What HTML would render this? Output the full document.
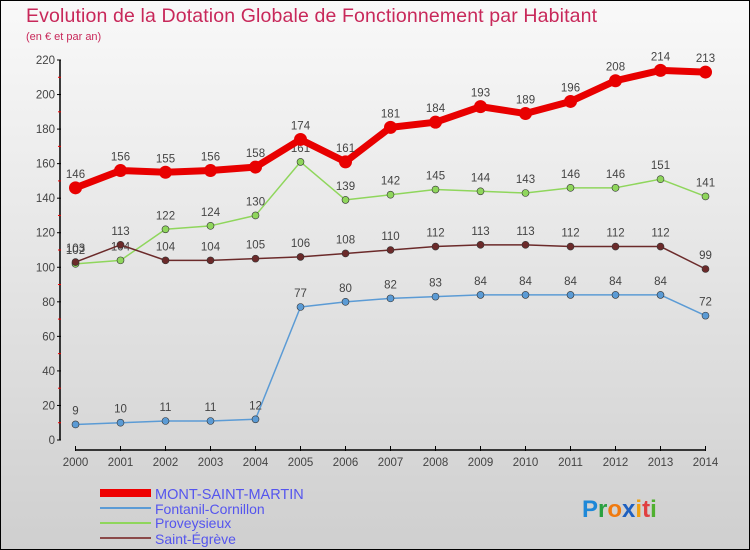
<!DOCTYPE html>
<html><head><meta charset="utf-8"><style>
body{margin:0;}
#c{position:relative;width:748px;height:548px;border:1px solid #000;background:linear-gradient(#f9f9f9,#cfcfcf);overflow:hidden;font-family:"Liberation Sans",sans-serif;}
svg text{font-family:"Liberation Sans",sans-serif;}
</style></head><body>
<div id="c">
<svg width="748" height="548" viewBox="1 1 748 548" id="svg">
<text x="26" y="22" font-size="19.5" fill="#c8285a" textLength="571">Evolution de la Dotation Globale de Fonctionnement par Habitant</text>
<text x="26" y="40" font-size="11" fill="#c8285a">(en € et par an)</text>
<g id="axes"></g><g id="series"></g>
<g>
<line x1="100" y1="493" x2="151" y2="493" stroke="#e00" stroke-width="8"/>
<text x="155" y="499" font-size="14.5" fill="#5555ee">MONT-SAINT-MARTIN</text>
<line x1="100" y1="508" x2="151" y2="508" stroke="#5b9bd5" stroke-width="2"/>
<text x="155" y="514" font-size="14" fill="#5555ee">Fontanil-Cornillon</text>
<line x1="100" y1="523" x2="151" y2="523" stroke="#8fd65c" stroke-width="2"/>
<text x="155" y="528" font-size="14" fill="#5555ee">Proveysieux</text>
<line x1="100" y1="538" x2="151" y2="538" stroke="#8b4a4a" stroke-width="2"/>
<text x="155" y="544" font-size="14" fill="#5555ee">Saint-Égrève</text>
</g>
<text x="582" y="517" font-size="24" font-weight="bold"><tspan fill="#1e88d8">P</tspan><tspan fill="#2aa040">r</tspan><tspan fill="#f07a10">o</tspan><tspan fill="#1e60c0">x</tspan><tspan fill="#f0a010">i</tspan><tspan fill="#e04040">t</tspan><tspan fill="#50b030">i</tspan></text>
</svg>
</div>
<script>
const years=[2000,2001,2002,2003,2004,2005,2006,2007,2008,2009,2010,2011,2012,2013,2014];
const mont=[146,156,155,156,158,174,161,181,184,193,189,196,208,214,213];
const fontanil=[9,10,11,11,12,77,80,82,83,84,84,84,84,84,72];
const provey=[102,104,122,124,130,161,139,142,145,144,143,146,146,151,141];
const egreve=[103,113,104,104,105,106,108,110,112,113,113,112,112,112,99];
const yTicks=[0,20,40,60,80,100,120,140,160,180,200,220];
const NS="http://www.w3.org/2000/svg";
const X=i=>75.5+i*(705.5-75.5)/(years.length-1);
const Y=v=>440-v*(380/220);
function mk(t,a,p){const e=document.createElementNS(NS,t);for(const k in a)e.setAttribute(k,a[k]);p.appendChild(e);return e;}
const ax=document.getElementById('axes');
const yAx=mk('line',{x1:60,y1:Y(220),x2:60,y2:440,stroke:'#000','stroke-width':1.5},ax);


yTicks.forEach(v=>{mk('line',{x1:57,y1:Y(v),x2:61,y2:Y(v),stroke:'#000'},ax);
if(v<220)mk('line',{x1:58,y1:Y(v+10),x2:61,y2:Y(v+10),stroke:'#e00'},ax);
const t=mk('text',{x:55,y:Y(v)+4,'font-size':11.5,fill:'#444','text-anchor':'end'},ax);t.textContent=v;

});
const xAx=mk('line',{x1:75,y1:450,x2:706,y2:450,stroke:'#000','stroke-width':1.5},ax);


years.forEach((y,i)=>{mk('line',{x1:X(i),y1:446,x2:X(i),y2:451,stroke:'#000'},ax);
const t=mk('text',{x:X(i),y:466,'font-size':11.5,fill:'#444','text-anchor':'middle'},ax);t.textContent=y;

});
const sg=document.getElementById('series');
function series(d,col,w,r,fill,name){
const pl=mk('polyline',{points:d.map((v,i)=>X(i)+','+Y(v)).join(' '),fill:'none',stroke:col,'stroke-width':w,'stroke-linejoin':'round'},sg);


d.forEach((v,i)=>{const c=mk('circle',{cx:X(i),cy:Y(v),r:r,fill:fill,stroke:w>3?'none':'#333','stroke-width':0.6},sg);


const t=mk('text',{x:X(i),y:Y(v)-10,'font-size':11.5,fill:'#444','text-anchor':'middle'},sg);t.textContent=v;

});}
series(fontanil,'#5b9bd5',1.5,3.5,'#5b9bd5','fontanil');
series(provey,'#8fd65c',1.5,3.5,'#8fd65c','proveysieux');
series(egreve,'#6b2a2a',1.5,3.5,'#6b2a2a','saint-egreve');
series(mont,'#e80000',7,6.5,'#e80000','mont-saint-martin');
</script>
</body></html>
